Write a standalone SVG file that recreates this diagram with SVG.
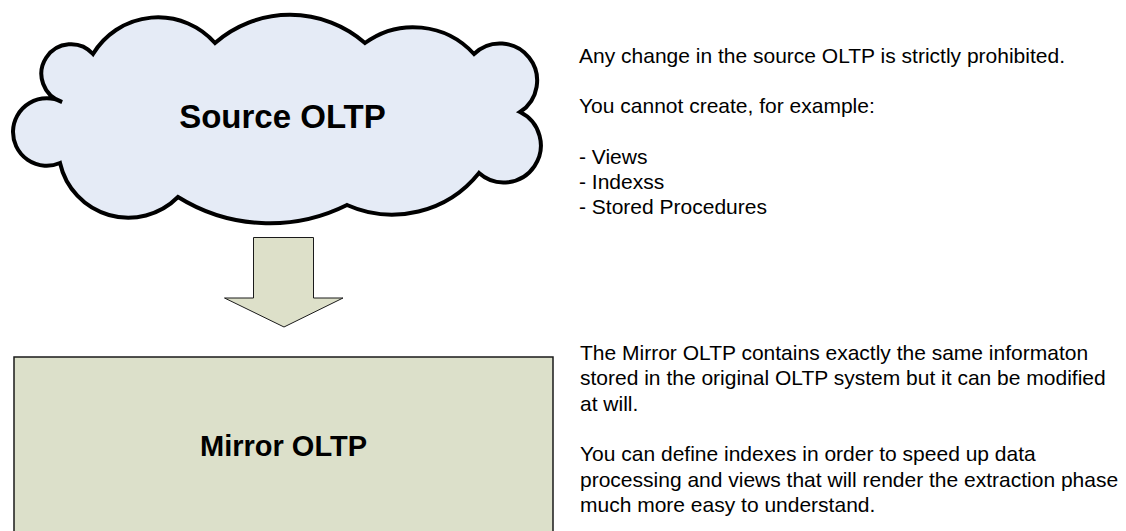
<svg xmlns="http://www.w3.org/2000/svg" width="1126" height="531" viewBox="0 0 1126 531">
  <style>
    .title { font-family: "Liberation Sans", Arial, sans-serif; font-weight: bold; fill: #000; text-anchor: middle; }
    .note { font-family: "Liberation Sans", Arial, sans-serif; font-size: 21px; fill: #000; }
    .cloud { fill: #e5ebf6; stroke: #000; stroke-width: 4; stroke-linejoin: miter; }
    .box { fill: #dce0ca; stroke: #1a1a1a; stroke-width: 1.5; }
    .flow { fill: #dde0c9; stroke: #1a1a1a; stroke-width: 1; }
  </style>
  <rect width="1126" height="531" fill="#fff"/>

  <!-- Source system drawn as a cloud -->
  <g id="source-oltp">
    <path class="cloud" d="M93,54
      A76,76 0 0 1 215,43
      A114,114 0 0 1 365,43
      A82,82 0 0 1 474,54
      A37.2,37.2 0 1 1 520,112
      A37.1,37.1 0 1 1 479,173
      A111,111 0 0 1 347,205
      A173,173 0 0 1 178,197
      A70,70 0 0 1 60,163
      A33.7,33.7 0 1 1 62,102
      A29.6,29.6 0 1 1 93,54 Z"/>
    <text class="title" x="282.5" y="128" font-size="33">Source OLTP</text>
  </g>

  <!-- Block arrow between the two systems -->
  <g id="connectors">
    <polygon class="flow" points="253.5,237.5 313.5,237.5 313.5,298 343,298 284,327 224.5,298 253.5,298"/>
  </g>

  <!-- Mirror system -->
  <g id="mirror-oltp">
    <rect class="box" x="14" y="357" width="539" height="185"/>
    <text class="title" x="283.5" y="456" font-size="29">Mirror OLTP</text>
  </g>

  <!-- Notes for the source system -->
  <g id="source-notes">
    <text class="note" x="579" y="63">Any change in the source OLTP is strictly prohibited.</text>
    <text class="note" x="579" y="113.4">You cannot create, for example:</text>
    <text class="note" x="579" y="163.8">- Views</text>
    <text class="note" x="579" y="189">- Indexss</text>
    <text class="note" x="579" y="214.2">- Stored Procedures</text>
  </g>

  <!-- Notes for the mirror system -->
  <g id="mirror-notes">
    <text class="note" x="580" y="360">The Mirror OLTP contains exactly the same informaton</text>
    <text class="note" x="580" y="385.3">stored in the original OLTP system but it can be modified</text>
    <text class="note" x="580" y="410.6">at will.</text>
    <text class="note" x="580" y="461.2">You can define indexes in order to speed up data</text>
    <text class="note" x="580" y="486.5">processing and views that will render the extraction phase</text>
    <text class="note" x="580" y="511.8">much more easy to understand.</text>
  </g>
</svg>
